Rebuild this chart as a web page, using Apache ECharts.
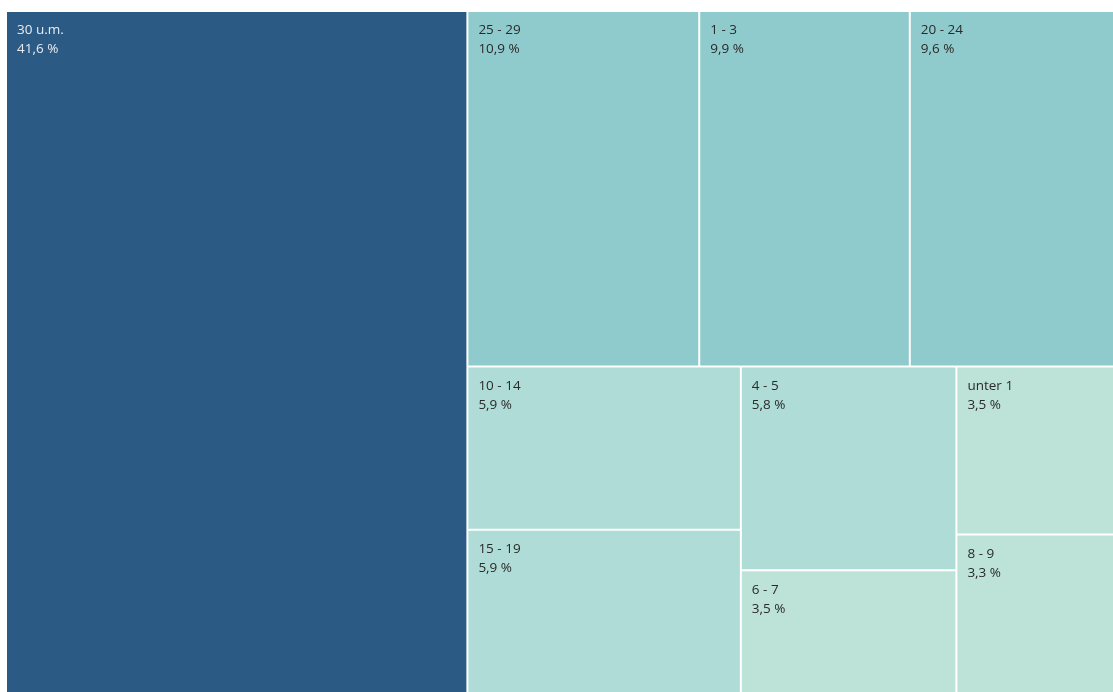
<!DOCTYPE html>
<html>
<head>
<meta charset="utf-8">
<script src="https://cdn.jsdelivr.net/npm/echarts@6/dist/echarts.min.js"></script>
<style>
  html, body { margin: 0; padding: 0; background: #fff; }
  #tree { width: 1113px; height: 692px; }
</style>
</head>
<body>
<div id="tree"></div>
<script>
// age groups (Jahre) and their share in %
var groups = ['30 u.m.', '25 - 29', '1 - 3', '20 - 24', '10 - 14', '15 - 19', '4 - 5', '6 - 7', 'unter 1', '8 - 9'];
var shares = [41.6, 10.9, 9.9, 9.6, 5.9, 5.9, 5.8, 3.5, 3.5, 3.3];

function tileColor(v) {
  if (v > 20) return '#2b5a85';
  if (v > 9) return '#8fcbcd';
  if (v > 5) return '#afdcd6';
  return '#bde3d8';
}

var chart = echarts.init(document.getElementById('tree'));
var items = groups.map(function (g, i) {
  var v = shares[i];
  return {
    name: g,
    value: v,
    itemStyle: { color: tileColor(v) },
    label: { color: v > 20 ? '#e6ecf2' : '#2a2a2a' }
  };
});

var option = {
  animation: false,
  series: [{
    type: 'treemap',
    left: 7,
    top: 12,
    right: 0,
    bottom: 0,
    sort: false,
    roam: false,
    nodeClick: false,
    breadcrumb: { show: false },
    levels: [
      { itemStyle: { borderWidth: 0, gapWidth: 2, borderColor: '#fff' } }
    ],
    itemStyle: { borderWidth: 0, gapWidth: 2, borderColor: '#fff' },
    label: {
      show: true,
      position: [10, 9],
      padding: 0,
      fontFamily: 'Open Sans',
      fontSize: 13.5,
      lineHeight: 19,
      formatter: function (p) {
        return p.name + '\n' + String(p.value).replace('.', ',') + ' %';
      }
    },
    data: items
  }]
};
chart.setOption(option);
</script>
</body>
</html>
